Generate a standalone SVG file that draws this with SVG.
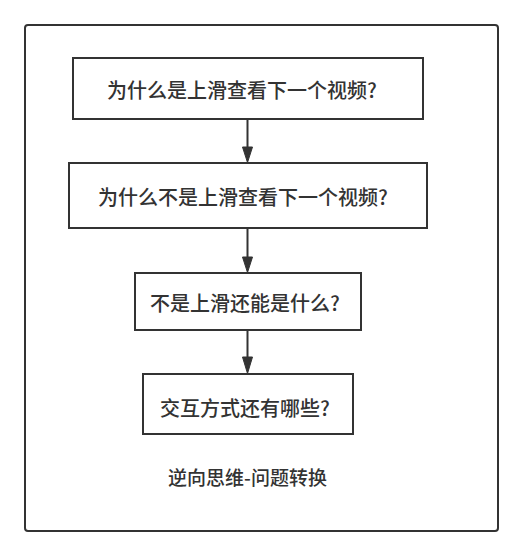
<svg xmlns="http://www.w3.org/2000/svg" width="532" height="556" viewBox="0 0 532 556">
<defs>
<style>
.frame{fill:#ffffff;stroke:#333333;stroke-width:2}
.box{fill:#ffffff;stroke:#333333;stroke-width:2}
.t{font-family:"Noto Sans CJK SC","Noto Sans",sans-serif;font-size:20px;font-weight:500;fill:#333333;text-anchor:middle}
.lbl{font-family:"Noto Sans CJK SC","Noto Sans",sans-serif;font-size:19px;font-weight:500;fill:#333333;text-anchor:middle}
.edge{stroke:#333333;stroke-width:2;fill:none}
.head{fill:#333333;stroke:#333333;stroke-width:1}
</style>
</defs>
<rect width="532" height="556" fill="#ffffff"/>
<g id="frame">
<rect class="frame" x="25" y="25" width="473" height="506" rx="3" ry="3"/>
</g>
<g id="connectors">
<line class="edge" x1="247.5" y1="119" x2="247.5" y2="148"/>
<polygon class="head" points="242.5,147 252.5,147 247.5,162.5"/>
<line class="edge" x1="247.5" y1="228" x2="247.5" y2="258"/>
<polygon class="head" points="242.5,257 252.5,257 247.5,272.5"/>
<line class="edge" x1="247.5" y1="330" x2="247.5" y2="358"/>
<polygon class="head" points="242.5,357 252.5,357 247.5,373.5"/>
</g>
<g id="node1">
<rect class="box" x="73" y="58" width="350" height="61"/>
<text class="t" x="242" y="98">为什么是上滑查看下一个视频?</text>
</g>
<g id="node2">
<rect class="box" x="69" y="163" width="358" height="65"/>
<text class="t" x="243" y="205">为什么不是上滑查看下一个视频?</text>
</g>
<g id="node3">
<rect class="box" x="135" y="273" width="226" height="57"/>
<text class="t" x="245" y="311">不是上滑还能是什么?</text>
</g>
<g id="node4">
<rect class="box" x="143" y="374" width="210" height="60"/>
<text class="t" x="245" y="416">交互方式还有哪些?</text>
</g>
<g id="label">
<text class="lbl" x="247.5" y="485">逆向思维-问题转换</text>
</g>
</svg>
